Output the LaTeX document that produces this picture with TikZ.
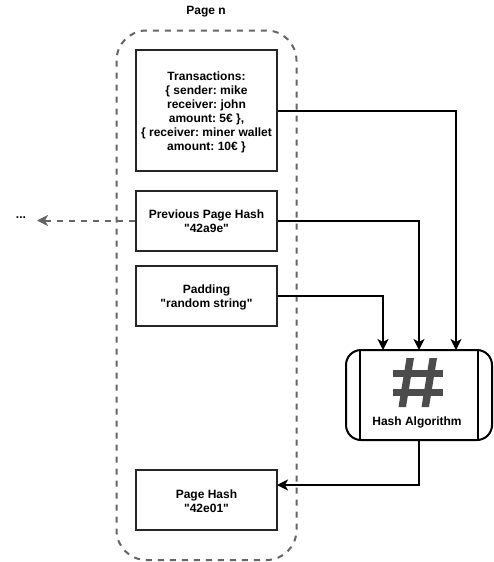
\documentclass[tikz,border=0pt]{standalone}
\usepackage{fontspec}
\setmainfont[Ligatures=TeXOff]{Liberation Sans}
\usetikzlibrary{arrows.meta,calc}
\definecolor{dgray}{HTML}{666666}
\newcommand{\lowa}{\rule{0pt}{12.7pt}}
\newcommand{\lowb}{\rule{0pt}{11pt}}
\tikzset{
  blockbox/.style={draw=black!85,line width=2pt,minimum width=141pt,inner sep=0pt,align=center,font=\fontsize{12}{14}\selectfont\bfseries\frenchspacing},
  conn/.style={draw=black,line width=2pt,-{Stealth[length=11pt,width=11pt,inset=3pt]}},
  dconn/.style={draw=dgray,line width=2pt,dash pattern=on 6pt off 6pt,-{Stealth[length=11pt,width=11pt,inset=3pt]}},
  plain/.style={inner sep=0pt,font=\fontsize{12}{14}\selectfont\bfseries\frenchspacing},
  hashbar/.style={fill=black!70,draw=none}
}
\begin{document}
\begin{tikzpicture}[x=1pt,y=-1pt]
\useasboundingbox (0,0) rectangle (493,562);
\fill[white] (0,0) rectangle (493,562);
\draw[dgray,line width=2pt,dash pattern=on 6pt off 6pt,rounded corners=30pt] (116.5,30.5) rectangle (296.5,560);
\node[plain] (title) at (206,11.5) {Page n};
\node[blockbox,minimum height=121pt] (tx) at (206.5,110.5) {\lowa Transactions:\\\{ sender: mike\\receiver: john\\amount: 5€ \},\\\{ receiver: miner wallet\\amount: 10€ \}};
\node[blockbox,minimum height=60pt] (prev) at (206.5,220.5) {\lowb Previous Page Hash\\"42a9e"};
\node[blockbox,minimum height=60pt] (pad) at (206.5,295.5) {\lowa Padding\\"random string"};
\node[blockbox,minimum height=60pt] (ph) at (206.5,500) {\lowb Page Hash\\"42e01"};
\node[plain] (dots) at (21,218) {...};
\node[draw=black,line width=2pt,rounded corners=15pt,minimum width=146pt,minimum height=90pt,inner sep=0pt] (hash) at (419,395) {};
\draw[black,line width=2pt] ($(hash.north west)+(15,0)$) -- ($(hash.south west)+(15,0)$);
\draw[black,line width=2pt] ($(hash.north east)+(-15,0)$) -- ($(hash.south east)+(-15,0)$);
\fill[hashbar] (406.5,358) -- (414,358) -- (406,407) -- (398.5,407) -- cycle;
\fill[hashbar] (429.5,358) -- (437,358) -- (429,407) -- (421.5,407) -- cycle;
\fill[hashbar] (393,370) rectangle (443,376.5);
\fill[hashbar] (393,389) rectangle (443,395.5);
\node[plain] (hl) at (417,422) {Hash Algorithm};
\coordinate (i1) at (383,350);
\coordinate (i2) at (419,350);
\coordinate (i3) at (456,350);
\coordinate (ph1) at (277,485);
\coordinate (dl) at (37,220.5);
\path[conn] (tx.east) -| (i3);
\path[conn] (prev.east) -| (i2);
\path[conn] (pad.east) -| (i1);
\path[conn] (hash.south) |- (ph1);
\path[dconn] (prev.west) -- (dl);
\end{tikzpicture}
\end{document}
